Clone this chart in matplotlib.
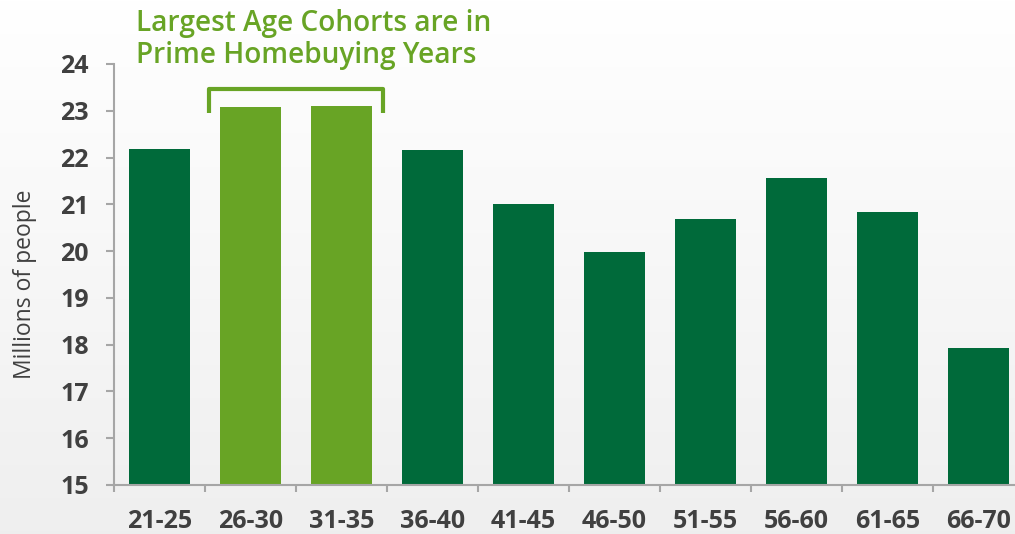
import numpy as np
import matplotlib
matplotlib.use("Agg")
import matplotlib.pyplot as plt

plt.rcParams['font.family'] = ['Open Sans', 'DejaVu Sans']

# data
age_groups = ['21-25', '26-30', '31-35', '36-40', '41-45',
              '46-50', '51-55', '56-60', '61-65', '66-70']
millions = [22.18, 23.08, 23.10, 22.16, 21.00,
            19.98, 20.69, 21.56, 20.84, 17.93]
highlight = [False, True, True, False, False,
             False, False, False, False, False]
yticks = [15, 16, 17, 18, 19, 20, 21, 22, 23, 24]

dark_green = '#006A3A'
light_green = '#68A425'
text_gray = '#404040'
axis_gray = '#A6A6A6'

W, H = 1015, 534
fig = plt.figure(figsize=(W / 100, H / 100), dpi=100)

# background gradient, white at top to light gray at bottom
bg = fig.add_axes([0, 0, 1, 1], zorder=-10)
grad = np.linspace(1.0, 0.937, 256).reshape(-1, 1)
bg.imshow(np.dstack([grad, grad, grad]), aspect='auto', extent=[0, 1, 0, 1])
bg.axis('off')

left = 114 / W
bottom = (H - 485) / H
width = 910 / W
height = (485 - 64) / H
ax = fig.add_axes([left, bottom, width, height])
ax.patch.set_alpha(0)

x = np.arange(len(age_groups))
colors = [light_green if h else dark_green for h in highlight]
ax.bar(x, np.array(millions) - 15, bottom=15, width=0.67, color=colors)

ax.set_xlim(-0.5, len(age_groups) - 0.5)
ax.set_ylim(15, 24)
ax.set_yticks(yticks)
ax.set_yticklabels([str(t) for t in yticks], fontsize=18,
                   fontweight='bold', color=text_gray)
ax.set_xticks(x)
ax.set_xticklabels(age_groups, fontsize=18, fontweight='bold',
                   color=text_gray)
ax.set_xticks(np.arange(len(age_groups) + 1) - 0.5, minor=True)
ax.tick_params(axis='x', which='major', length=0, pad=17)
ax.tick_params(axis='x', which='minor', length=5, width=1.5,
               color=axis_gray, direction='out')
ax.tick_params(axis='y', length=6, width=1.5, color=axis_gray,
               direction='out', pad=12)

for s in ['top', 'right']:
    ax.spines[s].set_visible(False)
for s in ['left', 'bottom']:
    ax.spines[s].set_color(axis_gray)
    ax.spines[s].set_linewidth(1.5)

fig.text(25 / W, 1 - 284 / H, 'Millions of people', rotation=90,
         ha='center', va='center', fontsize=16.5, color=text_gray)

# bracket over the highlighted cohorts
bx0, bx1 = 0.54, 2.46
by_top, by_bot = 23.46, 22.95
ax.plot([bx0, bx0, bx1, bx1], [by_bot, by_top, by_top, by_bot],
        color=light_green, lw=3, solid_joinstyle='round',
        solid_capstyle='butt', clip_on=False)

fig.text(136 / W, 1 - 23 / H, 'Largest Age Cohorts are in',
         ha='left', va='center', fontsize=20.2, fontweight='semibold',
         color=light_green)
fig.text(136 / W, 1 - 56 / H, 'Prime Homebuying Years',
         ha='left', va='center', fontsize=20.2, fontweight='semibold',
         color=light_green)

fig.savefig('out.png', dpi=100)
